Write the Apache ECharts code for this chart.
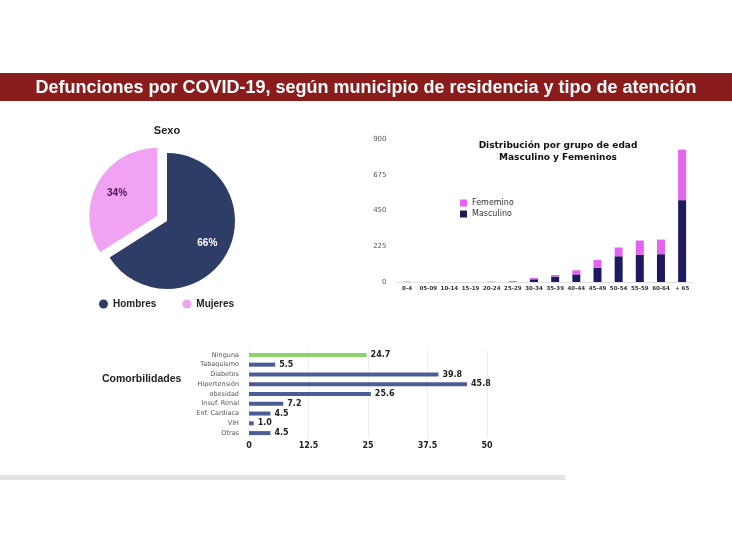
<!DOCTYPE html>
<html><head><meta charset="utf-8">
<script src="https://cdn.jsdelivr.net/npm/echarts@6/dist/echarts.min.js"></script>
<style>html,body{margin:0;padding:0;background:#fff;}#c{width:732px;height:549px;}</style>
</head><body><div id="c"></div>
<script>
const mainTitle = 'Defunciones por COVID-19, según municipio de residencia y tipo de atención';
const sexNames = ['Hombres', 'Mujeres'];
const sexValues = [66, 34];
const ageGroups = ['0-4','05-09','10-14','15-19','20-24','25-29','30-34','35-39','40-44','45-49','50-54','55-59','60-64','+ 65'];
const masculino = [1, 0, 0, 0, 1, 3, 17, 34, 48, 90, 162, 172, 175, 515];
const femenino  = [1, 0, 0, 0, 1, 2, 8, 10, 26, 49, 55, 89, 92, 318];
const ageTicks = [0, 225, 450, 675, 900];
const comorbNames = ['Ninguna','Tabaquismo','Diabetes','Hipertensión','obesidad','Insuf. Renal','Enf. Cardiaca','VIH','Otras'];
const comorbValues = [24.7, 5.5, 39.8, 45.8, 25.6, 7.2, 4.5, 1.0, 4.5];

const chart = echarts.init(document.getElementById('c'), null, {renderer: 'canvas'});
const font = 'Liberation Sans, Arial, sans-serif';
const vfont = 'DejaVu Sans, Verdana, sans-serif';
chart.setOption({
  animation: false,
  textStyle: {fontFamily: font},
  graphic: [
    {type: 'rect', shape: {x: 0, y: 73, width: 732, height: 28}, style: {fill: '#8b1c1c'}},
    {type: 'text', x: 366, y: 88, style: {text: mainTitle, fill: '#fff', font: 'bold 18px "Liberation Sans", Arial, sans-serif', textAlign: 'center', textVerticalAlign: 'middle'}},
    {type: 'rect', shape: {x: 0, y: 475, width: 565, height: 5}, style: {fill: '#e4e4e4'}},
    {type: 'text', x: 102, y: 379, style: {text: 'Comorbilidades', fill: '#222', font: 'bold 10.5px "Liberation Sans", Arial, sans-serif', textVerticalAlign: 'middle'}}
  ],
  title: [
    {text: 'Sexo', left: 162, top: 120, textAlign: 'center', textStyle: {fontSize: 11, fontWeight: 'bold', color: '#222', fontFamily: font}},
    {text: 'Distribución por grupo de edad\nMasculino y Femeninos', left: 553, top: 135, textAlign: 'center',
     textStyle: {fontSize: 9, fontWeight: 'bold', color: '#111', lineHeight: 12, fontFamily: vfont}}
  ],
  legend: [
    {data: sexNames, left: 94, top: 294, itemWidth: 9, itemHeight: 9, itemGap: 26, icon: 'circle',
     textStyle: {fontSize: 10, fontWeight: 'bold', color: '#222', fontFamily: font}},
    {data: ['Fememino', 'Masculino'], orient: 'vertical', left: 455, top: 194, itemWidth: 7, itemHeight: 7, itemGap: 3, icon: 'rect',
     textStyle: {fontSize: 8, color: '#333', fontFamily: vfont}}
  ],
  grid: [
    {left: 396.5, right: 39.3, top: 139, bottom: 267},
    {left: 249, right: 245, top: 350, bottom: 111}
  ],
  xAxis: [
    {gridIndex: 0, type: 'category', data: ageGroups,
     axisLine: {lineStyle: {color: '#ddd', type: 'dotted'}}, axisTick: {show: false},
     axisLabel: {interval: 0, fontSize: 5.5, fontWeight: 'bold', color: '#333', margin: 4, fontFamily: vfont}},
    {gridIndex: 1, type: 'value', min: 0, max: 50, interval: 12.5,
     axisLine: {show: false}, axisTick: {show: false},
     splitLine: {lineStyle: {color: '#eee'}},
     axisLabel: {fontSize: 8, fontWeight: 'bold', color: '#222', margin: 4, fontFamily: vfont}}
  ],
  yAxis: [
    {gridIndex: 0, type: 'value', min: 0, max: 900, interval: 225,
     axisLine: {show: false}, axisTick: {show: false}, splitLine: {show: false},
     axisLabel: {fontSize: 7, color: '#555', margin: 10, fontFamily: vfont,
       formatter: v => ageTicks.indexOf(v) >= 0 ? String(v) : ''}},
    {gridIndex: 1, type: 'category', data: comorbNames, inverse: true,
     axisLine: {show: false}, axisTick: {show: false},
     axisLabel: {fontSize: 6.5, color: '#555', margin: 10, fontFamily: vfont}}
  ],
  series: [
    {type: 'pie', center: [167, 221], radius: 68, startAngle: 90, clockwise: true,
     selectedMode: 'multiple', selectedOffset: 11, silent: true,
     data: sexNames.map((n, i) => ({name: n, value: sexValues[i], selected: i === 1})),
     color: ['#2e3d66', '#f0a3f3'],
     itemStyle: {borderWidth: 0},
     label: {show: false}, labelLine: {show: false}},
    {type: 'pie', center: [167, 221], radius: 86, startAngle: 90, clockwise: true,
     selectedMode: 'multiple', selectedOffset: 11, silent: true, legendHoverLink: false,
     data: sexNames.map((n, i) => ({name: n + ' ', value: sexValues[i], selected: i === 1,
       label: {color: i === 0 ? '#fff' : '#4a1450'}})),
     itemStyle: {color: 'rgba(0,0,0,0)'},
     label: {show: true, position: 'inside', formatter: '{d}%', fontSize: 10, fontWeight: 'bold', fontFamily: font},
     percentPrecision: 0, labelLine: {show: false}},
    {type: 'bar', name: 'Masculino', xAxisIndex: 0, yAxisIndex: 0, stack: 'edad', data: masculino, barWidth: 8,
     itemStyle: {color: '#1d1a5f'}},
    {type: 'bar', name: 'Fememino', xAxisIndex: 0, yAxisIndex: 0, stack: 'edad', data: femenino, barWidth: 8,
     itemStyle: {color: '#e463f2'}},
    {type: 'bar', xAxisIndex: 1, yAxisIndex: 1, barWidth: 4,
     data: comorbValues.map((v, i) => ({value: v, itemStyle: {color: i === 0 ? '#8fd26c' : '#4a5d96'}})),
     label: {show: true, position: 'right', distance: 4, formatter: p => p.value.toFixed(1),
       fontSize: 8, fontWeight: 'bold', color: '#222', fontFamily: vfont}}
  ]
});
</script></body></html>
